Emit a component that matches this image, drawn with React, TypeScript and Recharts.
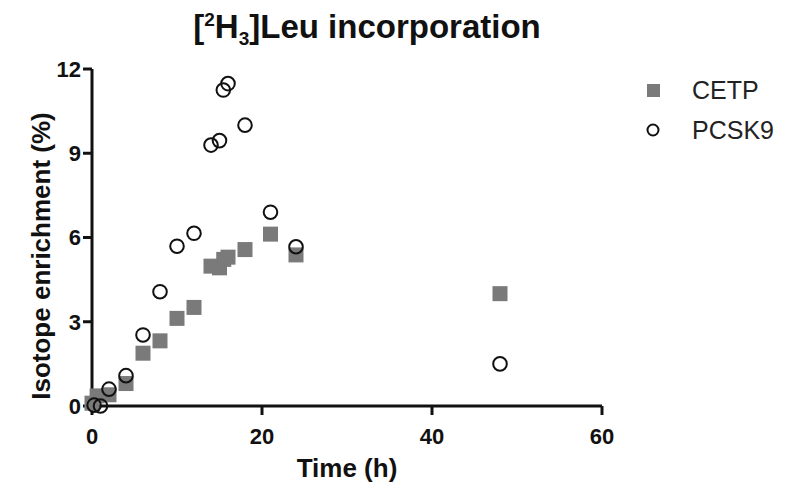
import React from 'react';
import { ScatterChart, Scatter, XAxis, YAxis, Label } from 'recharts';

const cetpTime = [0, 0.6, 2, 4, 6, 8, 10, 12, 14, 15, 15.5, 16, 18, 21, 24, 48];
const cetpEnrich = [0.1, 0.36, 0.4, 0.8, 1.88, 2.32, 3.12, 3.51, 4.98, 4.92, 5.22, 5.3, 5.57, 6.12, 5.38, 4.0];
const pcskTime = [0.25, 1, 2, 4, 6, 8, 10, 12, 14, 15, 15.45, 16, 18, 21, 24, 48];
const pcskEnrich = [0.03, 0.0, 0.6, 1.08, 2.53, 4.07, 5.69, 6.15, 9.29, 9.45, 11.25, 11.48, 10.0, 6.9, 5.67, 1.5];
const xTicks = [0, 20, 40, 60];
const yTicks = [0, 3, 6, 9, 12];

const cetpData = cetpTime.map((t, i) => ({ x: t, y: cetpEnrich[i] }));
const pcskData = pcskTime.map((t, i) => ({ x: t, y: pcskEnrich[i] }));

const FONT = '"Liberation Sans", Arial, Helvetica, sans-serif';

const SquareShape = (props: any) => {
  const { cx, cy } = props;
  const s = 15;
  return <rect x={cx - s / 2} y={cy - s / 2} width={s} height={s} fill="#7a7a7a" />;
};

const CircleShape = (props: any) => {
  const { cx, cy } = props;
  return <circle cx={cx} cy={cy} r={6.8} fill="none" stroke="#111" strokeWidth={2} />;
};

export default function App() {
  return (
    <div style={{ position: 'absolute', left: 0, top: 0, width: 787, height: 491, background: '#fff' }}>
      <svg width={787} height={60} style={{ position: 'absolute', left: 0, top: 0 }}>
        <text x={367} y={38} textAnchor="middle" fontFamily={FONT} fontWeight="bold" fontSize={33} fill="#111">
          <tspan>[</tspan>
          <tspan fontSize={19} dy={-12}>2</tspan>
          <tspan dy={12}>H</tspan>
          <tspan fontSize={19} dy={7}>3</tspan>
          <tspan dy={-7}>]Leu incorporation</tspan>
        </text>
      </svg>
      <ScatterChart
        width={787}
        height={491}
        margin={{ top: 69, right: 185, bottom: 26, left: 30 }}
        style={{ position: 'absolute', left: 0, top: 0 }}
      >
        <XAxis
          type="number"
          dataKey="x"
          domain={[0, 60]}
          ticks={xTicks}
          height={59}
          tickSize={9}
          tickMargin={13}
          axisLine={{ stroke: '#111', strokeWidth: 3 }}
          tickLine={{ stroke: '#111', strokeWidth: 3 }}
          tick={{ fontFamily: FONT, fontWeight: 'bold', fontSize: 22, fill: '#111' }}
        >
          <Label
            content={({ viewBox }: any) => (
              <text
                x={viewBox.x + viewBox.width / 2}
                y={viewBox.y + 71}
                textAnchor="middle"
                fontFamily={FONT}
                fontWeight="bold"
                fontSize={26}
                fill="#111"
              >
                Time (h)
              </text>
            )}
          />
        </XAxis>
        <YAxis
          type="number"
          dataKey="y"
          domain={[0, 12]}
          ticks={yTicks}
          width={62}
          tickSize={9}
          tickMargin={2}
          axisLine={{ stroke: '#111', strokeWidth: 3 }}
          tickLine={{ stroke: '#111', strokeWidth: 3 }}
          tick={{ fontFamily: FONT, fontWeight: 'bold', fontSize: 22, fill: '#111' }}
        >
          <Label
            content={() => (
              <text
                x={50}
                y={256}
                transform="rotate(-90 50 256)"
                textAnchor="middle"
                fontFamily={FONT}
                fontWeight="bold"
                fontSize={26}
                fill="#111"
              >
                Isotope enrichment (%)
              </text>
            )}
          />
        </YAxis>
        <Scatter name="CETP" data={cetpData} shape={SquareShape} isAnimationActive={false} />
        <Scatter name="PCSK9" data={pcskData} shape={CircleShape} isAnimationActive={false} />
      </ScatterChart>
      <svg width={150} height={160} style={{ position: 'absolute', left: 630, top: 60 }}>
        <rect x={647 - 630} y={84 - 60} width={13} height={13} fill="#7a7a7a" />
        <text x={692 - 630} y={99 - 60} fontFamily={FONT} fontSize={25} fill="#222">CETP</text>
        <circle cx={653 - 630} cy={130 - 60} r={5.5} fill="none" stroke="#111" strokeWidth={2} />
        <text x={692 - 630} y={139 - 60} fontFamily={FONT} fontSize={25} fill="#222">PCSK9</text>
      </svg>
    </div>
  );
}
